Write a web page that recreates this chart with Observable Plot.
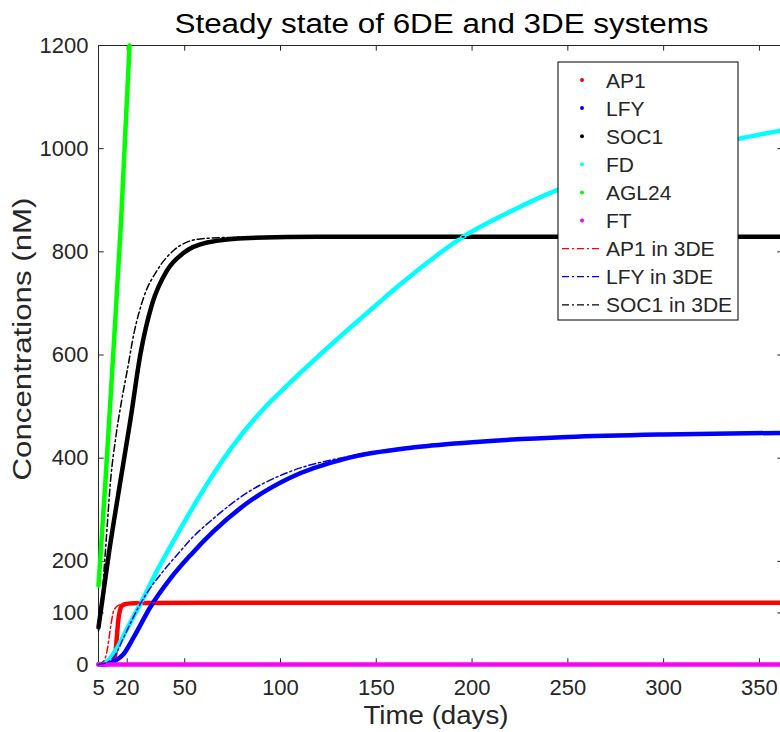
<!DOCTYPE html>
<html><head><meta charset="utf-8">
<script src="https://cdn.jsdelivr.net/npm/d3@7"></script>
<script src="https://cdn.jsdelivr.net/npm/@observablehq/plot@0.6"></script>
<style>
body{margin:0;background:#fff;overflow:hidden}
svg{display:block}
</style>
</head><body><div id="chart"></div>
<script>
// ---------- data ----------
const titleText = "Steady state of 6DE and 3DE systems";
const xLabel = "Time (days)";
const yLabel = "Concentrations (nM)";
const xTicks = [5, 20, 50, 100, 150, 200, 250, 300, 350];
const yTicks = [0, 100, 200, 400, 600, 800, 1000, 1200];

// 6DE system
const ap1Days  = [5, 10, 12, 13, 13.8, 14.5, 15.3, 16.2, 17.3, 19, 22, 30, 60, 120, 200, 300, 361];
const ap1Vals  = [0, 1, 3, 10, 21, 50, 85, 105, 114, 117, 118.5, 119, 119.5, 119.5, 119.5, 119.5, 119.5];
const lfyDays  = [5, 10, 14, 18, 23.4, 32, 42.6, 53, 65, 82.6, 105, 135, 170, 204, 250, 300, 361];
const lfyVals  = [0, 2, 8, 20, 53, 111, 167, 212, 258, 313, 362, 400, 421, 432, 441, 446, 449];
const soc1Days = [5, 10.4, 16.5, 21.7, 26.9, 33, 40.8, 49.5, 61.7, 84, 120, 200, 361];
const soc1Vals = [72, 215, 357, 475, 602, 699, 764, 798, 818, 827, 829, 829, 829];
const fdDays   = [5, 10, 13.9, 20, 26.9, 35.6, 47, 58, 74, 91, 106, 130, 150, 162.6, 195.7, 220, 244, 275, 300, 339, 361];
const fdVals   = [0, 8, 27, 70, 118, 182, 258, 328, 418, 495, 550, 632, 697, 737, 830, 878, 919, 958, 985, 1019, 1035];
const agl24Days = [5, 8.65, 12, 16.8, 21.2];
const agl24Vals = [153, 357, 560, 861, 1200];
const ftDays   = [5, 361];
const ftVals   = [0, 0];

// 3DE system
const ap1Days3  = [5, 7, 8.5, 9.5, 11.3, 13, 15.6, 20, 30, 60, 361];
const ap1Vals3  = [0, 4, 12, 27, 72, 105, 115, 118.5, 119.5, 119.5, 119.5];
const lfyDays3  = [5, 10, 14, 18.2, 26.9, 32, 39, 47.8, 53, 65, 82.6, 105, 135, 170, 204, 250, 300, 361];
const lfyVals3  = [0, 5, 20, 53, 118, 148, 182, 220, 242, 283, 333, 374, 403, 423, 433, 441, 446, 449];
const soc1Days3 = [5, 7, 9, 11.3, 14, 17, 20, 23.4, 28.6, 35.6, 44.3, 58, 75, 120, 361];
const soc1Vals3 = [65, 140, 240, 357, 440, 510, 570, 640, 712, 764, 803, 825, 828, 829, 829];

const names6 = ["AP1", "LFY", "SOC1", "FD", "AGL24", "FT"];
const names3 = ["AP1 in 3DE", "LFY in 3DE", "SOC1 in 3DE"];

// ---------- styles ----------
const colors = {AP1: "#ff0000", LFY: "#0000ff", SOC1: "#000000", FD: "#00ffff", AGL24: "#00ff00", FT: "#ff00ff",
  "AP1 in 3DE": "#ff0000", "LFY in 3DE": "#0000ff", "SOC1 in 3DE": "#000000"};
const axisColor = "#262626";
const font = "'Liberation Sans', Arial, Helvetica, sans-serif";

const toRows = (name, t, v) => t.map((d, i) => ({name, t: d, v: v[i]}));
const series6 = [
  toRows("AP1", ap1Days, ap1Vals),
  toRows("LFY", lfyDays, lfyVals),
  toRows("SOC1", soc1Days, soc1Vals),
  toRows("FD", fdDays, fdVals),
  toRows("AGL24", agl24Days, agl24Vals),
  toRows("FT", ftDays, ftVals)
];
const series3 = [
  toRows("AP1 in 3DE", ap1Days3, ap1Vals3),
  toRows("LFY in 3DE", lfyDays3, lfyVals3),
  toRows("SOC1 in 3DE", soc1Days3, soc1Vals3)
];

const W = 780, H = 732;
const mL = 98, mR = 0, mT = 45, mB = 68;

const chart = Plot.plot({
  width: W, height: H,
  marginLeft: mL, marginRight: mR, marginTop: mT, marginBottom: mB,
  style: {fontFamily: font, fontSize: "22px", color: axisColor, background: "#fff", overflow: "visible"},
  x: {domain: [5, 361], ticks: xTicks, tickSize: 0, tickPadding: 15, tickFormat: d => String(d), label: null},
  y: {domain: [0, 1200], ticks: yTicks, tickSize: 0, tickPadding: 10, tickFormat: d => String(d), label: null},
  marks: [
    // frame lines
    Plot.ruleX([5], {stroke: axisColor, strokeWidth: 1}),
    Plot.ruleY([1200], {stroke: axisColor, strokeWidth: 1}),
    Plot.ruleY([0], {stroke: axisColor, strokeWidth: 1}),
    // inward ticks
    Plot.ruleX(xTicks, {x: d => d, y1: 0, y2: 11, stroke: axisColor}),
    Plot.ruleX(xTicks, {x: d => d, y1: 1200, y2: 1189, stroke: axisColor}),
    Plot.ruleY(yTicks, {y: d => d, x1: 5, x2: 8, stroke: axisColor}),
    Plot.ruleY(yTicks, {y: d => d, x1: 359.6, x2: 361, stroke: axisColor}),
    // 6DE thick lines
    ...series6.map(s => Plot.line(s, {x: "t", y: "v", stroke: colors[s[0].name], strokeWidth: 4.5, curve: "monotone-x"})),
    // 3DE dash-dot lines
    ...series3.map(s => Plot.line(s, {x: "t", y: "v", stroke: colors[s[0].name], strokeWidth: 1.5, strokeDasharray: "7,3,2,3", curve: "monotone-x"})),
    // title & axis labels
    Plot.text([titleText], {frameAnchor: "top", lineAnchor: "top", dy: -32, dx: 2, fontSize: 27, fill: "#000"}),
    Plot.text([xLabel], {frameAnchor: "bottom", lineAnchor: "top", dy: 42, dx: -3.5, fontSize: 25, fill: axisColor}),
    Plot.text([yLabel], {frameAnchor: "left", dx: -76, dy: -16, rotate: -90, textAnchor: "middle", fontSize: 26, fill: axisColor})
  ]
});
document.getElementById("chart").appendChild(chart);

// stretch title and axis labels horizontally like the reference rendering
const svg = d3.select(chart);
const stretch = {[titleText]: 534, [xLabel]: 145, [yLabel]: 283};
svg.selectAll("text").each(function() {
  const t = this.textContent;
  if (stretch[t]) d3.select(this).attr("textLength", stretch[t]).attr("lengthAdjust", "spacingAndGlyphs");
});

// ---------- legend ----------
const lg = svg.append("g").attr("font-family", font).attr("font-size", 21).attr("text-anchor", "start");
const lx = 558, ly = 62, lw = 180, lh = 258, step = 28.1, firstY = 80;
lg.append("rect").attr("x", lx).attr("y", ly).attr("width", lw).attr("height", lh)
  .attr("fill", "#fff").attr("stroke", "#000").attr("stroke-width", 1);
const entries = [...names6.map(n => ({n, kind: "dot"})), ...names3.map(n => ({n, kind: "dash"}))];
entries.forEach((e, i) => {
  const y = firstY + i * step;
  if (e.kind === "dot") {
    lg.append("circle").attr("cx", 582).attr("cy", y).attr("r", 2).attr("fill", colors[e.n]);
  } else {
    lg.append("line").attr("x1", 562).attr("x2", 600).attr("y1", y).attr("y2", y)
      .attr("stroke", colors[e.n]).attr("stroke-width", 1.2).attr("stroke-dasharray", "7,3,2,3");
  }
  lg.append("text").attr("x", 606).attr("y", y).attr("dy", "0.36em").attr("fill", axisColor).text(e.n);
});
</script>
</body></html>
